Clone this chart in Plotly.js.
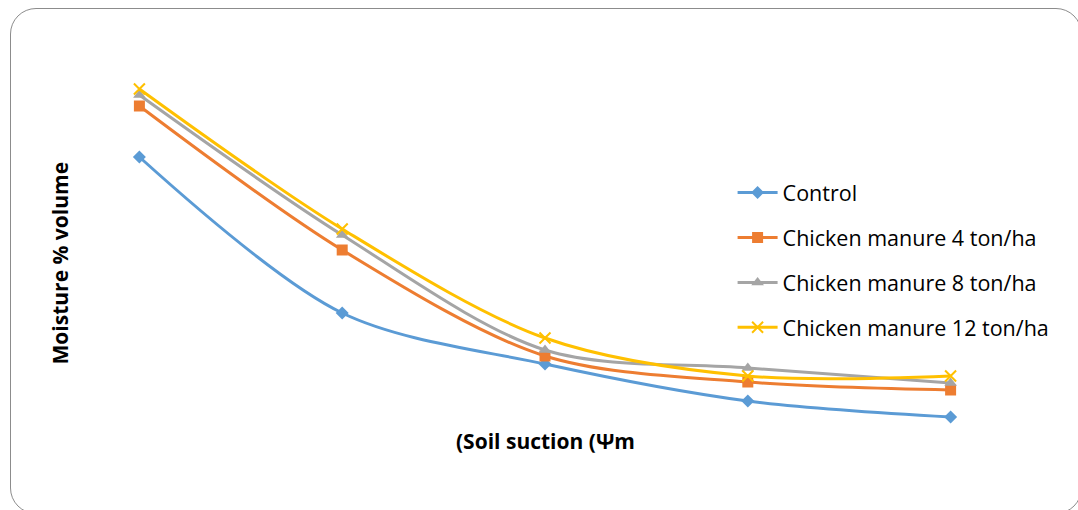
<!DOCTYPE html>
<html>
<head>
<meta charset="utf-8">
<script src="https://cdn.plot.ly/plotly-3.0.1.min.js"></script>
<style>
  html, body { margin: 0; padding: 0; background: #fff; }
  #frame {
    position: absolute; left: 10px; top: 8px; width: 1072px; height: 506px;
    border: 1px solid #8c8c8c; border-radius: 26px; box-sizing: border-box;
  }
  #chart { position: absolute; left: 0; top: 0; width: 1078px; height: 510px; }
</style>
</head>
<body>
<div id="frame"></div>
<div id="chart"></div>
<script>
// Suction steps (no tick labels shown on the axis)
const suctionSteps = [1, 2, 3, 4, 5];

// Moisture (% volume) per treatment
const control = [30.3, 14.7, 9.6, 5.9, 4.3];
const manure4 = [35.4, 21.0, 10.4, 7.8, 7.0];
const manure8 = [36.5, 22.5, 11.0, 9.2, 7.7];
const manure12 = [37.1, 23.1, 12.2, 8.4, 8.4];

const seriesNames = [
  'Control',
  'Chicken manure 4 ton/ha',
  'Chicken manure 8 ton/ha',
  'Chicken manure 12 ton/ha'
];

function series(name, y, color, symbol, size, group) {
  return {
    x: suctionSteps, y: y, name: name, type: 'scatter', mode: 'lines+markers',
    legendgroup: group,
    line: { color: color, width: 3, shape: 'spline', smoothing: 0.9 },
    marker: { color: color, symbol: symbol, size: size,
              line: { color: color, width: symbol === 'x-thin' ? 2 : 0 } }
  };
}

const traces = [
  series(seriesNames[0], control, '#5b9bd5', 'diamond', 10, 'a'),
  series(seriesNames[1], manure4, '#ed7d31', 'square', 11, 'b'),
  series(seriesNames[2], manure8, '#a5a5a5', 'triangle-up', 11, 'c'),
  series(seriesNames[3], manure12, '#ffc000', 'x-thin', 11, 'd')
];

const layout = {
  width: 1078, height: 510,
  paper_bgcolor: 'rgba(0,0,0,0)', plot_bgcolor: 'rgba(0,0,0,0)',
  margin: { l: 37.5, r: 25.5, t: 60, b: 50 },
  font: { family: 'Open Sans, sans-serif', color: '#000' },
  xaxis: { range: [0.5, 5.5], showgrid: false, zeroline: false, showline: false,
           showticklabels: false, ticks: '' },
  yaxis: { range: [0, 40], showgrid: false, zeroline: false, showline: false,
           showticklabels: false, ticks: '' },
  showlegend: true,
  legend: {
    x: 0.685, y: 0.72, xanchor: 'left', yanchor: 'top',
    font: { size: 21.5, family: 'Open Sans, sans-serif', color: '#000' },
    tracegroupgap: 14, itemwidth: 40, bgcolor: 'rgba(0,0,0,0)'
  },
  annotations: [
    { text: '<b>(Soil suction (Ψm</b>', xref: 'paper', yref: 'paper',
      x: (545 - 37.5) / 1015, y: (460 - 441) / 400, xanchor: 'center', yanchor: 'middle',
      showarrow: false, font: { size: 21 } },
    { text: '<b>Moisture % volume</b>', xref: 'paper', yref: 'paper',
      x: (60 - 37.5) / 1015, y: (460 - 263) / 400, xanchor: 'center', yanchor: 'middle',
      textangle: -90, showarrow: false, font: { size: 21 } }
  ]
};

Plotly.newPlot('chart', traces, layout, { displayModeBar: false, staticPlot: true });
</script>
</body>
</html>
